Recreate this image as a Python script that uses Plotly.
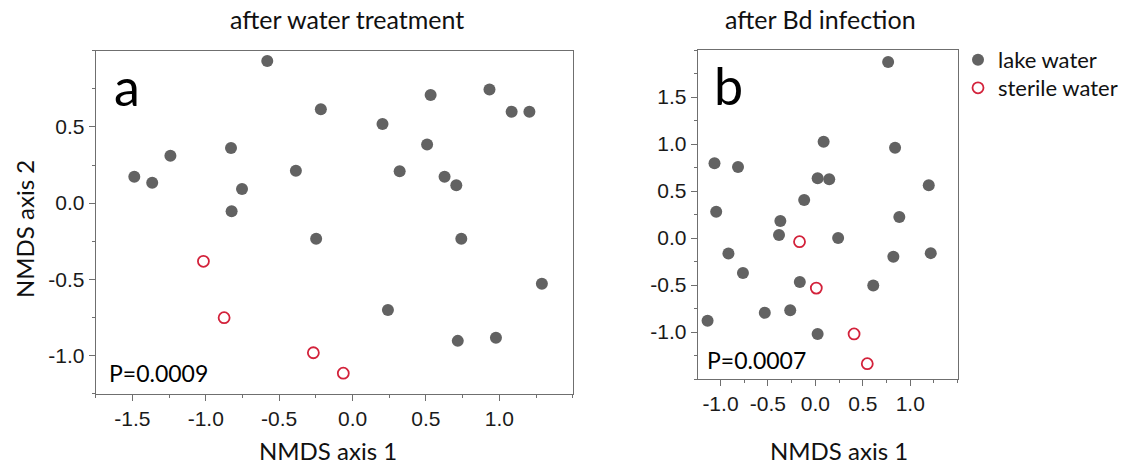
import plotly.graph_objects as go

# ---------------- data ----------------
# Panel a: after water treatment
a_lake_x = [-1.487, -1.365, -1.241, -0.828, -0.753, -0.824, -0.581, -0.386, -0.216, -0.248,
            0.204, 0.321, 0.508, 0.532, 0.627, 0.707, 0.741, 0.933, 1.084, 1.205,
            1.290, 0.241, 0.717, 0.977]
a_lake_y = [0.173, 0.133, 0.310, 0.362, 0.092, -0.054, 0.932, 0.213, 0.616, -0.234,
            0.519, 0.209, 0.384, 0.710, 0.173, 0.117, -0.234, 0.746, 0.600, 0.600,
            -0.529, -0.701, -0.904, -0.884]
a_sterile_x = [-1.016, -0.875, -0.267, -0.063]
a_sterile_y = [-0.382, -0.752, -0.982, -1.116]

# Panel b: after Bd infection
b_lake_x = [0.767, -1.063, -0.815, 0.087, 0.840, 0.024, 0.146, 1.195, -0.118, -1.045,
            0.885, -0.369, -0.383, 0.240, -0.916, -0.763, -0.164, 0.610, 0.822, 1.216,
            -1.136, -0.533, -0.265, 0.024]
b_lake_y = [1.872, 0.794, 0.755, 1.025, 0.961, 0.635, 0.624, 0.560, 0.404, 0.280,
            0.223, 0.181, 0.032, 0.000, -0.165, -0.372, -0.467, -0.505, -0.200, -0.161,
            -0.881, -0.796, -0.768, -1.021]
b_sterile_x = [-0.167, 0.010, 0.408, 0.547]
b_sterile_y = [-0.039, -0.533, -1.021, -1.337]

# tick labels
a_xticks = [-1.5, -1.0, -0.5, 0.0, 0.5, 1.0]
a_xtext = ["-1.5", "-1.0", "-0.5", "0.0", "0.5", "1.0"]
a_yticks = [-1.0, -0.5, 0.0, 0.5]
a_ytext = ["-1.0", "-0.5", "0.0", "0.5"]
b_xticks = [-1.0, -0.5, 0.0, 0.5, 1.0]
b_xtext = ["-1.0", "-0.5", "0.0", "0.5", "1.0"]
b_yticks = [-1.0, -0.5, 0.0, 0.5, 1.0, 1.5]
b_ytext = ["-1.0", "-0.5", "0.0", "0.5", "1.0", "1.5"]

titles = ["after water treatment", "after Bd infection"]
panel_letters = ["a", "b"]
p_values = ["P=0.0009", "P=0.0007"]
series_names = ["lake water", "sterile water"]
x_title = "NMDS axis 1"
y_title = "NMDS axis 2"

# ---------------- styling ----------------
W, H = 1145, 466
GRAY = "#626262"
RED = "#d3223b"
AXIS = "#6f6f6f"
TEXTFONT = "Lato"
TICKFONT = "Liberation Sans"


def px(x):
    return x / W


def py(y):
    return 1 - y / H


fig = go.Figure()

lake_marker = dict(symbol="circle", size=12, color=GRAY, line=dict(width=0))
sterile_marker = dict(symbol="circle-open", size=11, color=RED, line=dict(width=1.8, color=RED))

fig.add_trace(go.Scatter(x=a_lake_x, y=a_lake_y, mode="markers", marker=lake_marker,
                         name=series_names[0], legend="legend", xaxis="x", yaxis="y"))
fig.add_trace(go.Scatter(x=a_sterile_x, y=a_sterile_y, mode="markers", marker=sterile_marker,
                         name=series_names[1], legend="legend2", xaxis="x", yaxis="y"))
fig.add_trace(go.Scatter(x=b_lake_x, y=b_lake_y, mode="markers", marker=lake_marker,
                         name=series_names[0], showlegend=False, xaxis="x2", yaxis="y2"))
fig.add_trace(go.Scatter(x=b_sterile_x, y=b_sterile_y, mode="markers", marker=sterile_marker,
                         name=series_names[1], showlegend=False, xaxis="x2", yaxis="y2"))

axis_common = dict(showline=True, linecolor=AXIS, linewidth=1, mirror=True,
                   showgrid=False, zeroline=False, ticks="outside", ticklen=6,
                   tickcolor=AXIS, tickwidth=1,
                   tickfont=dict(family=TICKFONT, size=21, color="#1a1a1a"),
                   minor=dict(ticks="outside", ticklen=3, tickcolor=AXIS, dtick=0.25, tick0=0,
                              showgrid=False))

legend_common = dict(xanchor="left", yanchor="middle",
                     font=dict(family=TEXTFONT, size=22, color="#111"),
                     bgcolor="rgba(0,0,0,0)", borderwidth=0)

fig.update_layout(
    width=W, height=H,
    margin=dict(l=0, r=0, t=0, b=0),
    paper_bgcolor="white", plot_bgcolor="white",
    showlegend=True,
    legend=dict(x=px(958), y=py(60), **legend_common),
    legend2=dict(x=px(958), y=py(88), **legend_common),
    xaxis=dict(domain=[px(95.7), px(572.7)], range=[-1.75, 1.5], anchor="y",
               tickvals=a_xticks, ticktext=a_xtext, **axis_common),
    yaxis=dict(domain=[py(393.6), py(50.7)], range=[-1.25, 1.0], anchor="x",
               tickvals=a_yticks, ticktext=a_ytext, **axis_common),
    xaxis2=dict(domain=[px(697.7), px(957.7)], range=[-1.24, 1.5], anchor="y2",
                tickvals=b_xticks, ticktext=b_xtext, **axis_common),
    yaxis2=dict(domain=[py(379), py(50)], range=[-1.5, 2.0], anchor="x2",
                tickvals=b_yticks, ticktext=b_ytext, **axis_common),
)

ann = []
# titles
ann.append(dict(text=titles[0], x=px(347), y=py(19), xref="paper", yref="paper",
                showarrow=False, xanchor="center", yanchor="middle",
                font=dict(family=TEXTFONT, size=25, color="#111")))
ann.append(dict(text=titles[1], x=px(820), y=py(19), xref="paper", yref="paper",
                showarrow=False, xanchor="center", yanchor="middle",
                font=dict(family=TEXTFONT, size=25, color="#111")))
# axis titles
for cx in (328, 838.5):
    ann.append(dict(text=x_title, x=px(cx), y=py(450), xref="paper", yref="paper",
                    showarrow=False, xanchor="center", yanchor="middle",
                    font=dict(family=TEXTFONT, size=24, color="#111")))
ann.append(dict(text=y_title, x=px(24), y=py(229), xref="paper", yref="paper",
                showarrow=False, xanchor="center", yanchor="middle", textangle=-90,
                font=dict(family=TEXTFONT, size=24, color="#111")))
# panel letters
ann.append(dict(text=panel_letters[0], x=px(112), y=py(86), xref="paper", yref="paper",
                showarrow=False, xanchor="left", yanchor="middle",
                font=dict(family=TEXTFONT, size=52, color="#000")))
ann.append(dict(text=panel_letters[1], x=px(712), y=py(85), xref="paper", yref="paper",
                showarrow=False, xanchor="left", yanchor="middle",
                font=dict(family=TEXTFONT, size=52, color="#000")))
# p values
ann.append(dict(text=p_values[0], x=px(107), y=py(373), xref="paper", yref="paper",
                showarrow=False, xanchor="left", yanchor="middle",
                font=dict(family=TEXTFONT, size=23, color="#000")))
ann.append(dict(text=p_values[1], x=px(705), y=py(360), xref="paper", yref="paper",
                showarrow=False, xanchor="left", yanchor="middle",
                font=dict(family=TEXTFONT, size=23, color="#000")))
fig.update_layout(annotations=ann)

fig.write_html("out.html")
